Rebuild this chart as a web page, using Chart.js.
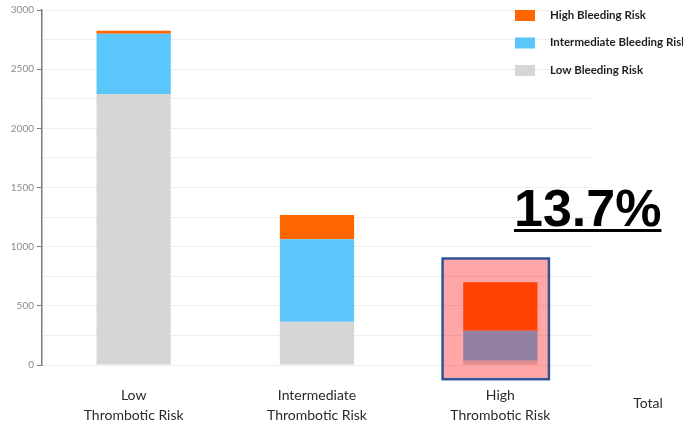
<!DOCTYPE html>
<html>
<head>
<meta charset="utf-8">
<script src="https://cdn.jsdelivr.net/npm/chart.js@4/dist/chart.umd.min.js"></script>
<style>
  html, body { margin: 0; padding: 0; background: #ffffff; }
  #wrap { width: 683px; height: 426px; position: relative; }
</style>
</head>
<body>
<div id="wrap"><canvas id="c" width="683" height="426"></canvas></div>
<script>
// Thrombotic risk groups on the x axis
const categories = [
  ['Low', 'Thrombotic Risk'],
  ['Intermediate', 'Thrombotic Risk'],
  ['High', 'Thrombotic Risk']
];

// Patients per bleeding-risk tier in each thrombotic group (stacked)
const lowBleeding = [2290, 366, 35];
const intermediateBleeding = [510, 696, 255];
const highBleeding = [25, 206, 410];

const seriesNames = ['High Bleeding Risk', 'Intermediate Bleeding Risk', 'Low Bleeding Risk'];
const highlightText = '13.7%';
const totalLabel = 'Total';

const COLORS = {
  low: '#d6d6d6',
  mid: '#5ac6fa',
  high: '#ff6600'
};

// Red wash + frame around the high thrombotic group (in scale units)
const HIGHLIGHT = { index: 2, left: -0.315, right: 0.265, yMin: -120, yMax: 900 };

const highlightPlugin = {
  id: 'highlightBox',
  afterDatasetsDraw(chart) {
    const { ctx, scales: { x, y } } = chart;
    const cat = (x.right - x.left) / chart.data.labels.length;
    const cx = x.getPixelForValue(HIGHLIGHT.index);
    const x0 = cx + HIGHLIGHT.left * cat;
    const x1 = cx + HIGHLIGHT.right * cat;
    const y0 = y.getPixelForValue(HIGHLIGHT.yMax);
    const y1 = y.getPixelForValue(HIGHLIGHT.yMin);
    ctx.save();
    ctx.fillStyle = 'rgba(255, 0, 0, 0.35)';
    ctx.fillRect(x0, y0, x1 - x0, y1 - y0);
    ctx.strokeStyle = '#2f5597';
    ctx.lineWidth = 2.5;
    ctx.strokeRect(x0, y0, x1 - x0, y1 - y0);
    ctx.restore();
  }
};

const annotationsPlugin = {
  id: 'annotations',
  afterDraw(chart) {
    const { ctx } = chart;
    ctx.save();
    // legend (top right)
    const entries = [
      { name: seriesNames[0], color: COLORS.high },
      { name: seriesNames[1], color: COLORS.mid },
      { name: seriesNames[2], color: COLORS.low }
    ];
    ctx.font = 'bold 11.5px Lato';
    ctx.textBaseline = 'middle';
    ctx.textAlign = 'left';
    entries.forEach((e, i) => {
      const yy = 15 + i * 27.5;
      ctx.fillStyle = e.color;
      ctx.fillRect(515, yy - 5, 20, 11);
      ctx.fillStyle = '#1f1f1f';
      ctx.fillText(e.name, 550, yy);
    });

    // "Total" label beside the category axis
    ctx.font = '14px Lato';
    ctx.fillStyle = '#2a2a2a';
    ctx.textAlign = 'center';
    ctx.fillText(totalLabel, 648, 403);

    // highlighted share
    ctx.font = 'bold 52px "Liberation Sans"';
    ctx.fillStyle = '#000000';
    ctx.textAlign = 'left';
    ctx.textBaseline = 'alphabetic';
    ctx.fillText(highlightText, 514, 226);
    const w = ctx.measureText(highlightText).width;
    ctx.fillRect(514, 229, w, 3);
    ctx.restore();
  }
};

new Chart(document.getElementById('c'), {
  type: 'bar',
  data: {
    labels: categories,
    datasets: [
      { label: seriesNames[2], data: lowBleeding, backgroundColor: COLORS.low },
      { label: seriesNames[1], data: intermediateBleeding, backgroundColor: COLORS.mid },
      { label: seriesNames[0], data: highBleeding, backgroundColor: COLORS.high }
    ]
  },
  options: {
    responsive: false,
    animation: false,
    layout: { padding: { top: 10, right: 91, left: 0, bottom: 0 } },
    datasets: { bar: { categoryPercentage: 1, barPercentage: 0.405, borderWidth: 0 } },
    plugins: { legend: { display: false }, tooltip: { enabled: false } },
    scales: {
      x: {
        stacked: true,
        grid: { display: false },
        border: { display: false },
        ticks: {
          color: '#2a2a2a',
          font: { family: 'Lato', size: 14, lineHeight: 1.45 },
          padding: 12,
          maxRotation: 0,
          autoSkip: false
        },
        afterFit(scale) { scale.height = 61; }
      },
      y: {
        stacked: true,
        min: 0,
        max: 3000,
        grid: {
          color: '#eeeeee',
          lineWidth: 1,
          drawTicks: true,
          tickLength: 5,
          tickColor: (c) => (c.tick && c.tick.value % 500 === 0) ? '#7a7a7a' : 'rgba(0,0,0,0)'
        },
        border: { display: true, color: '#7a7a7a', width: 1.5 },
        ticks: {
          stepSize: 250,
          color: '#8a8a8a',
          font: { family: 'Lato', size: 10 },
          padding: 3,
          callback: (v) => (v % 500 === 0 ? v : '')
        },
        afterFit(scale) { scale.width = 42; }
      }
    }
  },
  plugins: [highlightPlugin, annotationsPlugin]
});
</script>
</body>
</html>
